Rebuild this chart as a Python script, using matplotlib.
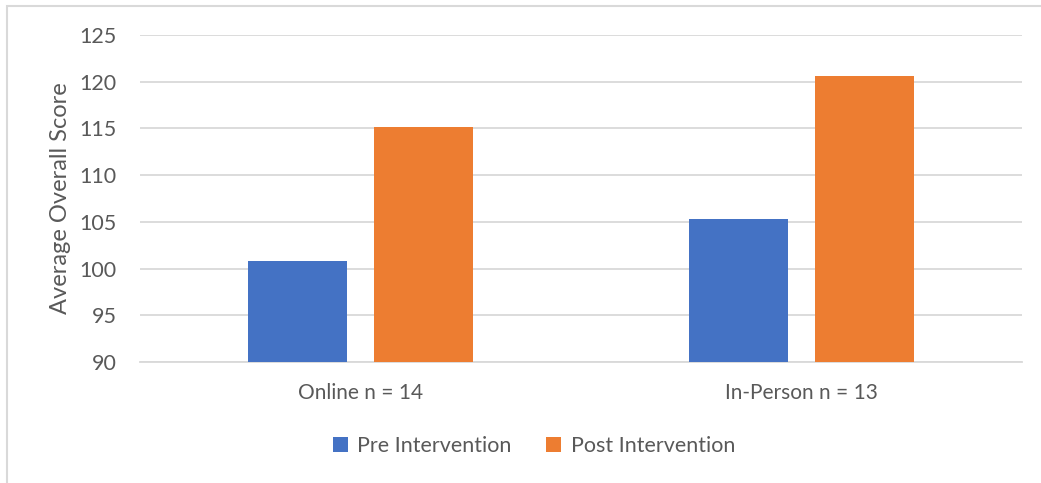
import numpy as np
import matplotlib.pyplot as plt
from matplotlib.patches import Rectangle

# Average overall score per group
groups = ["Online n = 14", "In-Person n = 13"]
pre_scores = [100.8, 105.3]
post_scores = [115.2, 120.6]
series_names = ["Pre Intervention", "Post Intervention"]
colors = ["#4472C4", "#ED7D31"]

plt.rcParams['font.family'] = ['Lato', 'DejaVu Sans']
text_color = "#595959"
grid_color = "#D9D9D9"

fig = plt.figure(figsize=(10.41, 4.83), dpi=100)
ax = fig.add_axes([140 / 1041, 1 - 362 / 483, 882 / 1041, 327 / 483])

x = np.arange(len(groups))
width = 0.2245
offset = (width + 0.061) / 2
ax.bar(x - offset, pre_scores, width, color=colors[0], label=series_names[0], zorder=3)
ax.bar(x + offset, post_scores, width, color=colors[1], label=series_names[1], zorder=3)

ax.set_xlim(-0.5, len(groups) - 0.5)
ax.set_ylim(90, 125)
ax.set_yticks(np.arange(90, 126, 5))
ax.set_xticks(x)
ax.set_xticklabels(groups)

ax.tick_params(axis='y', length=0, labelsize=15.5, labelcolor=text_color, pad=17)
ax.tick_params(axis='x', length=0, labelsize=15, labelcolor=text_color, pad=15)
ax.set_ylabel("Average Overall Score", fontsize=17, color=text_color, labelpad=6)

ax.grid(axis='y', color=grid_color, linewidth=1.3, zorder=0)
for side in ['top', 'right', 'left']:
    ax.spines[side].set_visible(False)
ax.spines['bottom'].set_color(grid_color)
ax.spines['bottom'].set_linewidth(1.3)

fig.legend(loc='center', bbox_to_anchor=(534 / 1041, 1 - 446 / 483), ncol=2,
           frameon=False, fontsize=15.5, labelcolor=text_color, handlelength=0.7,
           handleheight=0.7, handletextpad=0.45, columnspacing=1.6)

# Chart area outline (runs off the right and bottom edges)
fig.patches.append(Rectangle((6.5 / 1041, -0.1), 1.2, 1 - 5.5 / 483 + 0.1,
                             transform=fig.transFigure, fill=False,
                             edgecolor="#D9D9D9", linewidth=1.5))

fig.savefig("out.png", dpi=100)
